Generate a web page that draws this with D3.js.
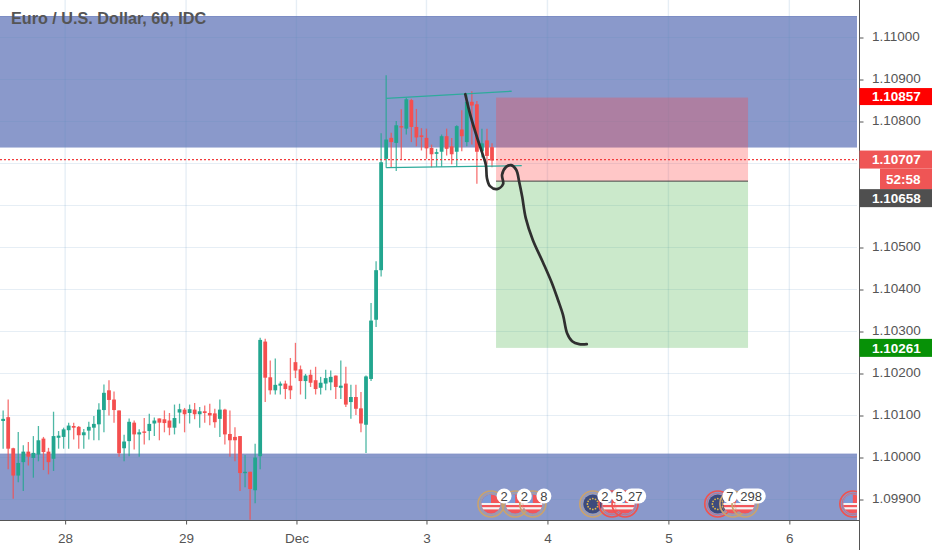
<!DOCTYPE html>
<html><head><meta charset="utf-8">
<script src="https://cdnjs.cloudflare.com/ajax/libs/d3/7.8.5/d3.min.js"></script>
<style>html,body{margin:0;padding:0;background:#fff;overflow:hidden}svg{display:block}text{font-family:"Liberation Sans",Arial,sans-serif}</style>
</head><body><svg id="c" width="932" height="550"></svg>
<script>
const title = "Euro / U.S. Dollar, 60, IDC";
const opens = [1.10049,1.10087,1.10096,1.10022,1.09957,1.09989,1.10014,1.09999,1.10007,1.10045,1.10014,1.09997,1.10047,1.10049,1.10065,1.10075,1.10073,1.10053,1.10064,1.10071,1.10079,1.10113,1.10160,1.10138,1.10112,1.10022,1.10039,1.10083,1.10055,1.10062,1.10063,1.10081,1.10093,1.10091,1.10088,1.10071,1.10107,1.10114,1.10106,1.10114,1.10103,1.10110,1.10106,1.10105,1.10092,1.10114,1.10056,1.10049,1.10051,1.09964,1.09966,1.09922,1.10003,
1.10276,1.10191,1.10160,1.10171,1.10176,1.10171,1.10227,1.10210,1.10182,1.10197,1.10184,1.10166,1.10176,1.10179,1.10195,1.10166,1.10176,1.10132,1.10144,1.10117,1.10078,1.10187,1.10328,1.10446,
1.10711,1.10761,1.10749,1.10789,1.10783,1.10851,1.10787,1.10767,1.10761,1.10737,1.10723,1.10728,1.10765,1.10741,1.10728,1.10781,1.10751,1.10847,1.10841,1.10729,1.10755,1.10739];
const highs = [1.10091,1.10112,1.10138,1.10023,1.10061,1.10029,1.10037,1.10051,1.10075,1.10049,1.10023,1.10109,1.10063,1.10071,1.10083,1.10083,1.10075,1.10068,1.10085,1.10099,1.10129,1.10174,1.10184,1.10157,1.10112,1.10054,1.10093,1.10088,1.10067,1.10094,1.10104,1.10095,1.10093,1.10112,1.10106,1.10126,1.10128,1.10118,1.10126,1.10130,1.10120,1.10124,1.10128,1.10116,1.10138,1.10116,1.10112,1.10072,1.10051,1.10006,1.09966,1.10033,1.10285,
1.10283,1.10231,1.10236,1.10181,1.10183,1.10237,1.10273,1.10219,1.10199,1.10209,1.10216,1.10192,1.10209,1.10207,1.10195,1.10231,1.10216,1.10173,1.10173,1.10156,1.10195,1.10368,1.10467,1.10772,
1.10910,1.10773,1.10801,1.10829,1.10857,1.10854,1.10830,1.10784,1.10783,1.10745,1.10735,1.10769,1.10783,1.10761,1.10791,1.10827,1.10864,1.10872,1.10849,1.10783,1.10783,1.10748];
const lows = [1.10019,1.10021,1.09972,1.09902,1.09941,1.09920,1.09981,1.09952,1.09991,1.09970,1.09960,1.09968,1.10021,1.10021,1.10021,1.10043,1.10021,1.10021,1.10043,1.10041,1.10041,1.10060,1.10100,1.10083,1.10002,1.09991,1.10003,1.10019,1.10002,1.10031,1.10041,1.10051,1.10041,1.10060,1.10053,1.10055,1.10081,1.10060,1.10081,1.10091,1.10071,1.10083,1.10077,1.10071,1.10049,1.10031,1.10002,1.09991,1.09920,1.09929,1.09852,1.09891,1.09972,
1.10132,1.10150,1.10150,1.10150,1.10139,1.10139,1.10189,1.10150,1.10139,1.10168,1.10150,1.10150,1.10160,1.10160,1.10139,1.10139,1.10120,1.10092,1.10101,1.10060,1.10011,1.10182,1.10311,1.10431,
1.10690,1.10690,1.10682,1.10711,1.10769,1.10751,1.10741,1.10731,1.10711,1.10691,1.10692,1.10692,1.10719,1.10698,1.10692,1.10729,1.10741,1.10745,1.10652,1.10714,1.10698,1.10691];
const closes = [1.10087,1.10092,1.10021,1.09957,1.09987,1.10014,1.10002,1.10011,1.10041,1.10013,1.09989,1.10051,1.10052,1.10067,1.10076,1.10071,1.10053,1.10060,1.10073,1.10080,1.10114,1.10154,1.10137,1.10113,1.10010,1.10038,1.10085,1.10055,1.10060,1.10060,1.10080,1.10088,1.10083,1.10082,1.10071,1.10094,1.10115,1.10103,1.10115,1.10103,1.10110,1.10106,1.10100,1.10084,1.10114,1.10055,1.10041,1.10041,1.09963,1.09966,1.09925,1.10000,1.10280,
1.10190,1.10160,1.10173,1.10176,1.10163,1.10160,1.10207,1.10182,1.10195,1.10178,1.10163,1.10178,1.10189,1.10192,1.10168,1.10171,1.10126,1.10144,1.10116,1.10081,1.10193,1.10326,1.10446,1.10703,
1.10757,1.10751,1.10791,1.10786,1.10853,1.10787,1.10762,1.10763,1.10736,1.10722,1.10727,1.10765,1.10735,1.10722,1.10789,1.10765,1.10847,1.10838,1.10728,1.10748,1.10718,1.10707];

const yTicks = [1.11,1.109,1.108,1.107,1.106,1.105,1.104,1.103,1.102,1.101,1.1,1.099];
const yLabelsHidden = [1.107,1.106];
const xTickIdx = [13.3,37.3,59.2,85,109,133,157];
const xTickLabels = ["28","29","Dec","3","4","5","6"];

const zoneUpper = [1.11050,1.10738];
const zoneLower = [1.10008,1.09840];
const stopPrice = 1.10857, entryPrice = 1.10658, targetPrice = 1.10261;
const positionIdx = [98.8,148.8];
const trendUpperIdx = [77,101.9], trendUpperPrice = [1.10855,1.10872];
const trendLowerIdx = [77,103.9], trendLowerPrice = [1.10690,1.10695];
const scribbleIdx = [92.7,93.8,95.2,96.2,96.8,97,97.6,99,100.2,100,100.8,101.8,102.8,103.4,104,104.7,106.1,108.1,109.9,111.1,112.1,112.9,113.9,115.3,116.8];
const scribblePrice = [1.10865,1.10811,1.10756,1.10720,1.10696,1.10665,1.10646,1.10639,1.10651,1.10673,1.10692,1.10696,1.10685,1.10656,1.10620,1.10570,1.10518,1.10465,1.10415,1.10375,1.10339,1.10296,1.10277,1.10270,1.10270];
const lastPrice = 1.10707;
const tagTexts = ["1.10857","1.10707","52:58","1.10658","1.10261"];
const eventIdx = [97.8,102.6,106.1,118,121.8,124.4,142.8,145.8,148.2,169.6];
const eventKind = ["us","us","us","eu","us","us","eu","us","us","us"];
const eventRing = ["#c9a26f","#c9a26f","#c9a26f","#c9a26f","#ef5350","#ef5350","#ef5350","#c9a26f","#c9a26f","#ef5350"];
const badgeIdx = [100.4,104.4,108.3,120.4,123.2,126.4,145.2,149.4];
const badgeText = ["2","2","8","2","5","27","7","298"];

const svg = d3.select("#c");
const plotR = 857, axisX = 859.5, axisY = 520.5;
const x = d3.scaleLinear().domain([0,98]).range([-1.9,492]);
const y = d3.scaleLinear().domain([1.11,1.099]).range([37.5,499.5]);
const defs = svg.append("defs");
defs.append("clipPath").attr("id","plot").append("rect").attr("x",0).attr("y",0).attr("width",plotR).attr("height",axisY);
const plot = svg.append("g").attr("clip-path","url(#plot)");

// zones
const zoneFill = "#8a99cb";
[zoneUpper,zoneLower].forEach(z=>{
  plot.append("rect").attr("x",0).attr("width",plotR).attr("y",y(z[0])).attr("height",y(z[1])-y(z[0])).attr("fill",zoneFill);
  plot.append("line").attr("x1",0).attr("x2",plotR).attr("y1",y(z[0])).attr("y2",y(z[0])).attr("stroke","#7d8dc4").attr("stroke-width",1);
});
// grid
const gridColor = "rgba(90,140,190,0.15)";
plot.selectAll(".gy").data(yTicks).join("line").attr("x1",0).attr("x2",plotR).attr("y1",d=>y(d)).attr("y2",d=>y(d)).attr("stroke",gridColor).attr("stroke-width",1.2);
plot.selectAll(".gx").data(xTickIdx).join("line").attr("y1",0).attr("y2",axisY).attr("x1",d=>x(d)).attr("x2",d=>x(d)).attr("stroke",gridColor).attr("stroke-width",1.4);

// candles
const up = "#22a68f", dn = "#f44f4f";
const idx = d3.range(opens.length);
const col = i=>closes[i]>=opens[i]?up:dn;
plot.selectAll(".wick").data(idx).join("line").attr("x1",i=>x(i)).attr("x2",i=>x(i)).attr("y1",i=>y(highs[i])).attr("y2",i=>y(lows[i])).attr("stroke",col).attr("stroke-width",1.3).attr("stroke-opacity",.8);
plot.selectAll(".body").data(idx).join("rect").attr("x",i=>x(i)-1.9).attr("width",3.8)
  .attr("y",i=>y(Math.max(opens[i],closes[i]))).attr("height",i=>Math.max(1.4,Math.abs(y(opens[i])-y(closes[i])))).attr("fill",col);

// position tool
plot.append("rect").attr("x",x(positionIdx[0])).attr("width",x(positionIdx[1])-x(positionIdx[0])).attr("y",y(stopPrice)).attr("height",y(entryPrice)-y(stopPrice)).attr("fill","rgba(255,70,70,0.30)");
plot.append("rect").attr("x",x(positionIdx[0])).attr("width",x(positionIdx[1])-x(positionIdx[0])).attr("y",y(entryPrice)).attr("height",y(targetPrice)-y(entryPrice)).attr("fill","rgba(76,180,76,0.29)");
plot.append("line").attr("x1",x(positionIdx[0])).attr("x2",x(positionIdx[1])).attr("y1",y(entryPrice)).attr("y2",y(entryPrice)).attr("stroke","#444").attr("stroke-width",1);

// last price line
plot.append("line").attr("x1",0).attr("x2",plotR).attr("y1",y(lastPrice)-1).attr("y2",y(lastPrice)-1).attr("stroke","#f23b3b").attr("stroke-width",1.2).attr("stroke-dasharray","2 2");

// trend lines
const tl = d3.line().x(d=>x(d[0])).y(d=>y(d[1]));
[[trendUpperIdx,trendUpperPrice],[trendLowerIdx,trendLowerPrice]].forEach(t=>{
  plot.append("path").attr("d",tl(d3.zip(t[0],t[1]))).attr("fill","none").attr("stroke","#2eab9c").attr("stroke-width",1.3);
});
// hand-drawn curve
plot.append("path").attr("d",d3.line().x(d=>x(d[0])).y(d=>y(d[1])).curve(d3.curveCatmullRom)(d3.zip(scribbleIdx,scribblePrice))).attr("fill","none").attr("stroke","#2f2f2f").attr("stroke-width",2.7).attr("stroke-linecap","round");

// event flags
const evY = 504, r = 13;
const ev = plot.selectAll(".ev").data(eventIdx).join("g").attr("transform",d=>`translate(${x(d)},${evY})`);
ev.each(function(d,i){
  const g = d3.select(this), id = "f"+i;
  defs.append("clipPath").attr("id",id).append("circle").attr("r",9.5);
  const f = g.append("g").attr("clip-path",`url(#${id})`);
  if(eventKind[i]==="us"){
    f.append("rect").attr("x",-r).attr("y",-r).attr("width",2*r).attr("height",2*r).attr("fill","#f2555a");
    f.append("rect").attr("x",-r).attr("y",-1).attr("width",2*r).attr("height",2).attr("fill","#f4f4f4");
    f.append("rect").attr("x",-r).attr("y",3.2).attr("width",2*r).attr("height",2.2).attr("fill","#f4f4f4");
    f.append("rect").attr("x",-r).attr("y",-r).attr("width",r).attr("height",r-1).attr("fill","#7d9bd8");
  } else {
    f.append("rect").attr("x",-r).attr("y",-r).attr("width",2*r).attr("height",2*r).attr("fill","#3d4a7c");
    d3.range(0,12).forEach(k=>{const a=k*Math.PI/6;f.append("circle").attr("cx",5.4*Math.cos(a)).attr("cy",5.4*Math.sin(a)).attr("r",.9).attr("fill","#e0b84a");});
  }
  g.append("circle").attr("r",r).attr("fill","none").attr("stroke",eventRing[i]).attr("stroke-width",1.7);
  g.append("circle").attr("r",r-2.2).attr("fill","none").attr("stroke",eventRing[i]).attr("stroke-width",.8).attr("stroke-opacity",.7);
});
const badges = plot.selectAll(".bd").data(badgeIdx).join("g").attr("transform",d=>`translate(${x(d)},496)`);
badges.append("rect").attr("x",(d,i)=>-7.5-(badgeText[i].length-1)*3.6).attr("y",-7.5).attr("rx",7.5).attr("height",15).attr("width",(d,i)=>15+(badgeText[i].length-1)*7.2).attr("fill","#fff");
badges.append("text").attr("text-anchor","middle").attr("dy","0.36em").attr("font-size",13).attr("fill","#444").text((d,i)=>badgeText[i]);

// axes
const yAxis = d3.axisRight(y).tickValues(yTicks).tickFormat(d=>yLabelsHidden.includes(d)?"":d3.format(".5f")(d)).tickSize(4).tickPadding(8.5);
const gy = svg.append("g").attr("transform",`translate(${axisX},0)`).call(yAxis);
gy.select(".domain").attr("d","M0,0V550").attr("stroke","#555");
gy.selectAll(".tick line").attr("stroke","#555");
gy.selectAll("text").attr("font-size",13.5).attr("fill","#555").attr("dy","0.2em").style("font-family",'"Liberation Sans",Arial,sans-serif');
const xAxis = d3.axisBottom(x).tickValues(xTickIdx).tickFormat((d,i)=>xTickLabels[i]).tickSize(4).tickPadding(9);
const gx = svg.append("g").attr("transform",`translate(0,${axisY})`).call(xAxis);
gx.select(".domain").attr("d",`M0,0H${axisX}`).attr("stroke","#555");
gx.selectAll(".tick line").attr("stroke","#555");
gx.selectAll("text").attr("font-size",13.5).attr("fill","#555").style("font-family",'"Liberation Sans",Arial,sans-serif');

// price tags
const tags = [
 {i:0,p:stopPrice,dy:-1,fill:"#ff0000",x0:axisX,h:17},
 {i:1,p:lastPrice,dy:-1,fill:"#ef5555",x0:axisX,h:18},
 {i:2,p:lastPrice,dy:18.5,fill:"#ef5555",x0:880,h:21},
 {i:3,p:entryPrice,dy:17,fill:"#4f4f4f",x0:axisX,h:18},
 {i:4,p:targetPrice,dy:0,fill:"#079107",x0:axisX,h:18}];
tags.forEach(t=>{
  const cy=y(t.p)+t.dy;
  svg.append("rect").attr("x",t.x0).attr("width",932-t.x0).attr("y",cy-t.h/2).attr("height",t.h).attr("fill",t.fill);
  svg.append("text").attr("x",t.i===2?886:872).attr("y",cy).attr("dy","0.36em").attr("font-size",13.5).attr("font-weight",700).attr("fill","#fff").text(tagTexts[t.i]);
});

// title
svg.append("text").attr("x",11).attr("y",18).attr("dy","0.36em").attr("font-size",16.2).attr("font-weight",700).attr("fill","#555").text(title);
</script></body></html>
